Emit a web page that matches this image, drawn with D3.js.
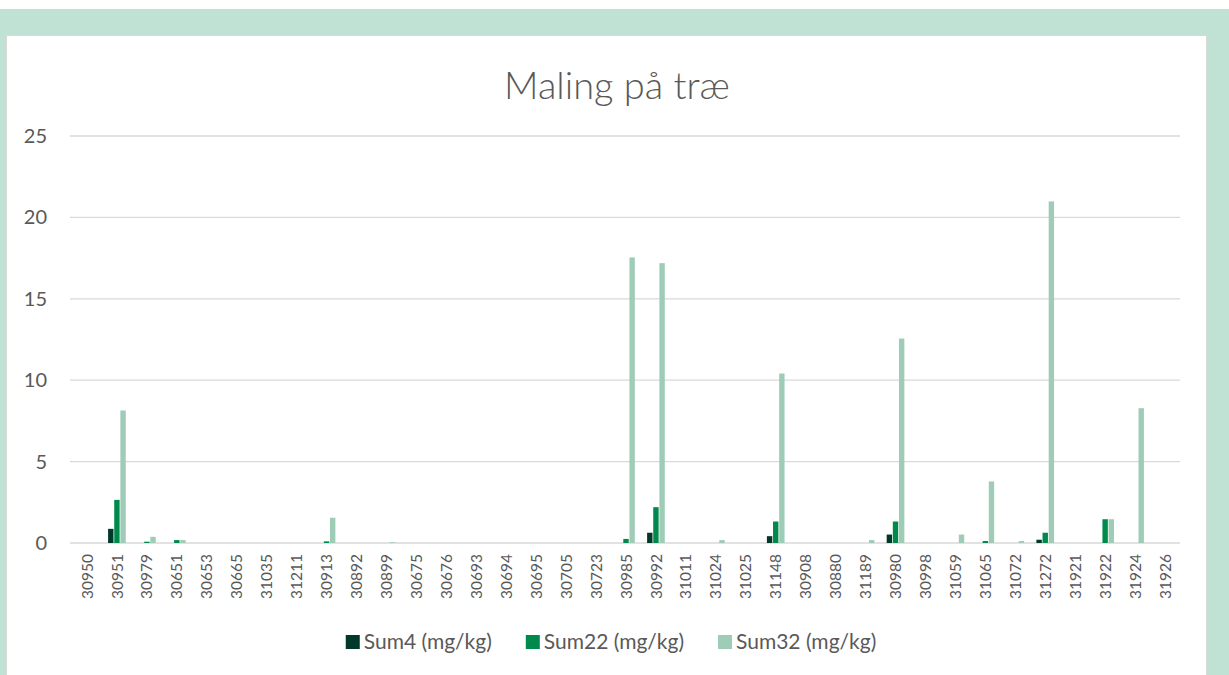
<!DOCTYPE html>
<html><head><meta charset="utf-8">
<script src="https://cdn.jsdelivr.net/npm/d3@7"></script>
<style>html,body{margin:0;padding:0;background:#fff;}svg{display:block;}</style>
</head><body>
<script>
const categories = ["30950","30951","30979","30651","30653","30665","31035","31211","30913","30892","30899","30675","30676","30693","30694","30695","30705","30723","30985","30992","31011","31024","31025","31148","30908","30880","31189","30980","30998","31059","31065","31072","31272","31921","31922","31924","31926"];
const seriesNames = ["Sum4 (mg/kg)","Sum22 (mg/kg)","Sum32 (mg/kg)"];
const sum4  = [0,0.87,0,0,0,0,0,0,0,0,0,0,0,0,0,0,0,0,0,0.63,0,0,0,0.42,0,0,0,0.52,0,0,0,0,0.2,0,0,0,0];
const sum22 = [0,2.65,0.08,0.18,0,0,0,0,0.1,0,0,0,0,0,0,0,0,0,0.25,2.2,0,0,0,1.32,0,0,0,1.32,0,0,0.12,0,0.63,0,1.46,0,0];
const sum32 = [0,8.14,0.38,0.18,0,0,0,0,1.55,0,0.05,0,0,0,0,0,0,0,17.54,17.19,0,0.18,0,10.41,0,0,0.18,12.56,0,0.52,3.78,0.12,20.98,0,1.46,8.28,0];
const yTicks = [0,5,10,15,20,25];
const colors = ["#00382a","#00894c","#9fccb7"];

const W=1229,H=675;
const svg=d3.select("body").append("svg").attr("width",W).attr("height",H);
svg.append("rect").attr("x",0).attr("y",9).attr("width",W).attr("height",H-9).attr("fill","#c0e2d4");
svg.append("rect").attr("x",6.5).attr("y",35.5).attr("width",1200).attr("height",650).attr("fill","#fff").attr("stroke","#d9d9d9").attr("stroke-width",1);

const font="Lato, 'Open Sans', sans-serif";
const m={l:72,r:1180,t:136,b:543};
const x=d3.scaleBand().domain(categories).range([m.l,m.r]);
const y=d3.scaleLinear().domain([0,25]).range([m.b,m.t]);
const inner=d3.scaleBand().domain(seriesNames).range([0,x.bandwidth()]).paddingInner(0.12).paddingOuter(1.0);

svg.append("g").selectAll("line").data(yTicks).join("line")
  .attr("x1",m.l-2).attr("x2",m.r).attr("y1",d=>y(d)).attr("y2",d=>y(d))
  .attr("stroke","#d9d9d9").attr("stroke-width",1.3);

svg.append("g").selectAll("text").data(yTicks).join("text")
  .attr("x",47).attr("y",d=>y(d)).attr("dy","0.35em").attr("text-anchor","end")
  .attr("font-family",font).attr("font-size",20).attr("fill","#595959").text(d=>d);

const series=[sum4,sum22,sum32];
series.forEach((vals,si)=>{
  svg.append("g").selectAll("rect").data(vals).join("rect")
    .attr("x",(d,i)=>x(categories[i])+inner(seriesNames[si]))
    .attr("width",inner.bandwidth())
    .attr("y",d=>y(d)).attr("height",d=>y(0)-y(d))
    .attr("fill",colors[si]);
});

svg.append("g").selectAll("text").data(categories).join("text")
  .attr("transform",d=>`translate(${x(d)+x.bandwidth()/2},554) rotate(-90)`)
  .attr("dy","0.36em").attr("text-anchor","end")
  .attr("font-family",font).attr("font-size",15.5).attr("fill","#595959").text(d=>d);

svg.append("text").attr("x",617).attr("y",99).attr("text-anchor","middle")
  .attr("font-family",font).attr("font-weight",300).attr("font-size",38).attr("fill","#595959").text("Maling på træ");

// legend, centred
const legFont=21, sq=14, gapT=4, gapItem=34;
const lg=svg.append("g");
const items=lg.selectAll("g").data(seriesNames).join("g");
items.append("rect").attr("x",0).attr("y",-sq/2).attr("width",sq).attr("height",sq).attr("fill",(d,i)=>colors[i]);
items.append("text").attr("x",sq+gapT).attr("y",0).attr("dy","0.35em")
  .attr("font-family",font).attr("font-size",legFont).attr("fill","#595959").text(d=>d);
let cx=0; const offs=[];
items.each(function(){const w=this.getBBox().width; offs.push(cx); cx+=w+gapItem;});
const total=cx-gapItem;
items.attr("transform",(d,i)=>`translate(${offs[i]},0)`);
lg.attr("transform",`translate(${611-total/2},642)`);
</script>
</body></html>
